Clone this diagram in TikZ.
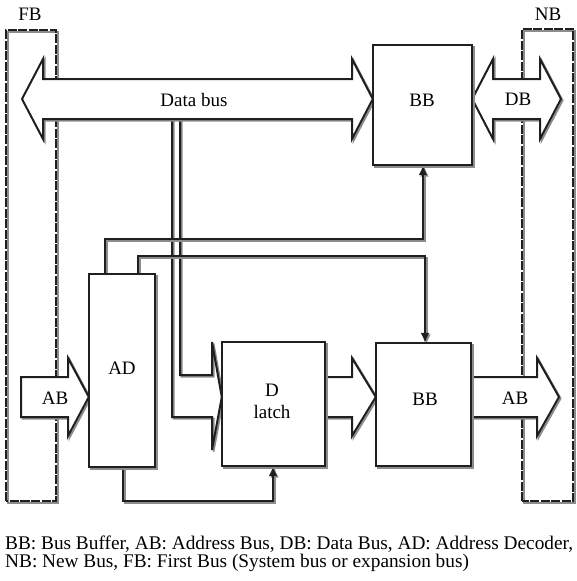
\documentclass[tikz,border=0pt]{standalone}
\usepackage{fontspec}
\setmainfont{Liberation Serif}
\usetikzlibrary{arrows.meta}
\begin{document}
\begin{tikzpicture}[x=1pt,y=-1pt,
  sh/.style={preaction={draw=black!45, line width=2pt, transform canvas={shift={(1.5pt,-1.5pt)}}}},
  ln/.style={draw=black!88, line width=2pt, sh},
  box/.style={draw=black!88, line width=2pt, fill=white, inner sep=0pt, sh},
  bus/.style={draw=black!88, line width=2pt, fill=white, sh},
  lbl/.style={font=\fontsize{19}{22}\selectfont, inner sep=0pt, align=center},
  fbus/.style={draw=black!88, line width=2pt, dash pattern=on 9pt off 1.5pt, sh},
  arr/.style={-{Latex[length=10pt,width=9pt]}},
]
\useasboundingbox (0,0) rectangle (576,581);

% first bus and new bus (dashed frames)
\draw[fbus] (6,501) -- (6,30) -- (56,30) -- (56,501) -- cycle;
\draw[fbus] (522,501) -- (522,29) -- (573,29) -- (573,501) -- cycle;
\node[lbl] (fb) at (30,14) {FB};
\node[lbl] (nb) at (548,14) {NB};

% boxes (placed first so anchors exist; drawn on top later)
\path (422.5,105) node[minimum width=99pt, minimum height=120pt, inner sep=0pt] (bbtop) {};
\path (122,370.5) node[minimum width=66pt, minimum height=193pt, inner sep=0pt] (ad) {};
\path (273.5,404) node[minimum width=103pt, minimum height=124pt, inner sep=0pt] (dl) {};
\path (423.5,404.5) node[minimum width=95pt, minimum height=123pt, inner sep=0pt] (bbbot) {};

% data bus branch to the latch
\draw[ln] (172,119) -- (172,417) -- (212,417) -- (212,450) -- (dl.west |- 0,397)
  -- (212,342) -- (212,375) -- (180,375) -- (180,119);

% control lines from the address decoder
\draw[ln, arr] (ad.north -| 105,0) -- (105,239) -- (423,239) -- (bbtop.south -| 423,0);
\draw[ln, arr] (ad.north -| 138,0) -- (138,256) -- (425,256) -- (bbbot.north -| 425,0);
\draw[ln, arr] (ad.south -| 123,0) -- (123,501) -- (273,501) -- (dl.south -| 273,0);

% data bus (double arrow)
\draw[bus] (22,99) -- (43,59) -- (43,79) -- (352,79) -- (352,59) -- (bbtop.west |- 0,99)
  -- (352,139) -- (352,119) -- (43,119) -- (43,139) -- cycle;
\node[lbl] (dbus) at (194,100) {Data bus};

% DB (double arrow)
\draw[bus] (bbtop.east |- 0,99) -- (493,59) -- (493,79) -- (540,79) -- (540,59) -- (561,99)
  -- (540,139) -- (540,119) -- (493,119) -- (493,139) -- cycle;
\node[lbl] (db) at (518,99) {DB};

% AB in
\draw[bus] (21,377) -- (68,377) -- (68,358) -- (ad.west |- 0,397) -- (68,436) -- (68,417) -- (21,417) -- cycle;
\node[lbl] (abin) at (55,398) {AB};

% latch -> BB
\draw[bus] (dl.east |- 0,377) -- (352,377) -- (352,358) -- (bbbot.west |- 0,397) -- (352,436) -- (352,417) -- (dl.east |- 0,417);

% AB out
\draw[bus] (bbbot.east |- 0,377) -- (537,377) -- (537,358) -- (559,397) -- (537,436) -- (537,417) -- (bbbot.east |- 0,417);
\node[lbl] (about) at (515,398) {AB};

% boxes drawn
\node[box, minimum width=99pt, minimum height=120pt] (bbtopbox) at (bbtop) {};
\node[lbl] (bbtopl) at (422,100) {BB};
\node[box, minimum width=66pt, minimum height=193pt] (adbox) at (ad) {};
\node[lbl] (adl) at (122,368) {AD};
\node[box, minimum width=103pt, minimum height=124pt] (dlbox) at (dl) {};
\node[lbl] (dll) at (272,401) {D\\latch};
\node[box, minimum width=95pt, minimum height=123pt] (bbbotbox) at (bbbot) {};
\node[lbl] (bbbotl) at (425,399) {BB};

% caption
\node[anchor=west, inner sep=0pt, font=\fontsize{19.3}{20}\selectfont] (cap1) at (5,544)
  {BB: Bus Buffer, AB: Address Bus, DB: Data Bus, AD: Address Decoder,};
\node[anchor=west, inner sep=0pt, font=\fontsize{19.3}{20}\selectfont] (cap2) at (5,563)
  {NB: New Bus, FB: First Bus (System bus or expansion bus)};
\end{tikzpicture}
\end{document}
